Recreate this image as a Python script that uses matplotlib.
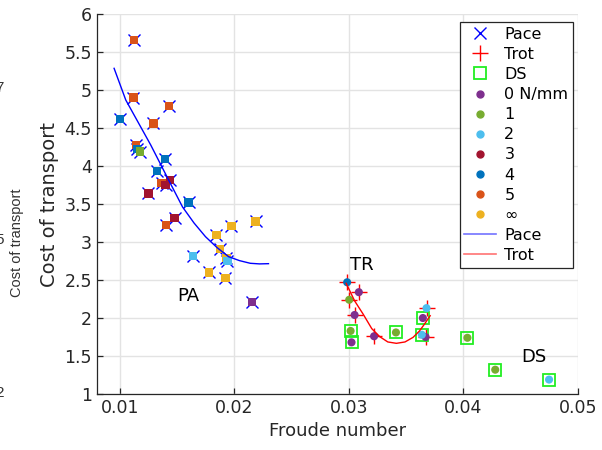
import matplotlib
matplotlib.use("Agg")
import matplotlib.pyplot as plt
from matplotlib.lines import Line2D
import numpy as np

# ---- data ----
stiff_labels = ["0 N/mm", "1", "2", "3", "4", "5", "\u221e"]
stiff_colors = ["#7E2F8E", "#77AC30", "#4DBEEE", "#A2142F", "#0072BD", "#D95319", "#EDB120"]

pace_x = [0.01124, 0.01119, 0.01429, 0.01000, 0.01293, 0.01139, 0.01150, 0.01177,
          0.01394, 0.01322, 0.01365, 0.01441, 0.01400, 0.01250, 0.01600, 0.01478,
          0.01406, 0.01843, 0.01974, 0.02185, 0.01637, 0.01872, 0.01930, 0.01939,
          0.01780, 0.01922, 0.02154]
pace_y = [5.66, 4.90, 4.79, 4.62, 4.56, 4.28, 4.22, 4.19,
          4.09, 3.93, 3.78, 3.82, 3.75, 3.64, 3.52, 3.32,
          3.22, 3.09, 3.21, 3.27, 2.82, 2.91, 2.79, 2.75,
          2.60, 2.53, 2.21]
pace_k = [5, 5, 5, 4, 5, 5, 4, 1,
          4, 4, 5, 3, 3, 3, 4, 3,
          5, 6, 6, 6, 2, 6, 6, 2,
          6, 6, 0]

trot_x = [0.02985, 0.03087, 0.03003, 0.03050, 0.03220, 0.03678, 0.03670]
trot_y = [2.47, 2.34, 2.24, 2.04, 1.76, 2.13, 1.75]
trot_k = [4, 0, 1, 0, 0, 2, 0]

ds_x = [0.03015, 0.03023, 0.03411, 0.03646, 0.03637, 0.04035, 0.04278, 0.04748]
ds_y = [1.83, 1.68, 1.81, 2.00, 1.78, 1.74, 1.32, 1.19]
ds_k = [1, 0, 1, 0, 2, 1, 1, 2]

pace_fit_x = [0.0095, 0.01052, 0.0127, 0.01426, 0.01548, 0.01648, 0.01748, 0.0185,
              0.0195, 0.02045, 0.02139, 0.0222, 0.02298]
pace_fit_y = [5.285, 4.868, 4.276, 3.816, 3.46, 3.25, 3.07, 2.925,
              2.807, 2.755, 2.72, 2.712, 2.715]
trot_fit_x = [0.02976, 0.0305, 0.03125, 0.0320, 0.0327, 0.0334, 0.03415, 0.0349,
              0.0356, 0.03617, 0.0366, 0.0371]
trot_fit_y = [2.457, 2.226, 2.05, 1.86, 1.754, 1.685, 1.667, 1.685,
              1.745, 1.83, 1.92, 2.03]

labels_txt = ["PA", "TR", "DS"]
labels_pos = [(0.01602, 2.29), (0.0311, 2.70), (0.04617, 1.49)]

# ---- figure ----
plt.rcParams['font.family'] = ['DejaVu Sans']
fig = plt.figure(figsize=(6.02, 4.5), dpi=100)
ax = fig.add_axes([0.161, 0.1244, 0.799, 0.8445])

fg = "#262626"
ax.set_xlim(0.008, 0.05)
ax.set_ylim(1, 6)
ax.set_xticks([0.01, 0.02, 0.03, 0.04, 0.05])
ax.set_xticklabels(["0.01", "0.02", "0.03", "0.04", "0.05"])
ax.set_yticks([1, 1.5, 2, 2.5, 3, 3.5, 4, 4.5, 5, 5.5, 6])
ax.set_yticklabels(["1", "1.5", "2", "2.5", "3", "3.5", "4", "4.5", "5", "5.5", "6"])
ax.grid(True, color="#e3e3e3", linewidth=1.0)
ax.set_axisbelow(True)
for s in ["top", "right"]:
    ax.spines[s].set_visible(False)
for s in ["left", "bottom"]:
    ax.spines[s].set_color(fg)
    ax.spines[s].set_linewidth(0.9)
ax.tick_params(direction="in", length=4, colors=fg, labelsize=12.5, width=0.9)
ax.set_xlabel("Froude number", fontsize=13, color=fg, labelpad=4)
ax.set_ylabel("Cost of transport", fontsize=14, color=fg, labelpad=4)

# marker overlays
ax.plot(pace_x, pace_y, ls="none", marker="x", color="blue", ms=9, mew=1.0, zorder=3)
ax.plot(trot_x, trot_y, ls="none", marker="+", color="red", ms=12, mew=1.0, zorder=3)
ax.plot(ds_x, ds_y, ls="none", marker="s", mfc="none", mec="#22ee22", ms=8.5, mew=1.3, zorder=3)

# colored fills
pc = [stiff_colors[k] for k in pace_k]
ax.scatter(pace_x, pace_y, marker="s", s=36, c=pc, edgecolors="none", zorder=4)
tc = [stiff_colors[k] for k in trot_k]
ax.scatter(trot_x, trot_y, marker="o", s=34, c=tc, edgecolors="none", zorder=4)
dc = [stiff_colors[k] for k in ds_k]
ax.scatter(ds_x, ds_y, marker="o", s=34, c=dc, edgecolors="none", zorder=4)

# fit lines
ax.plot(pace_fit_x, pace_fit_y, color="blue", lw=1.0, zorder=5)
ax.plot(trot_fit_x, trot_fit_y, color="red", lw=1.0, zorder=5)

for t, (x, y) in zip(labels_txt, labels_pos):
    ax.text(x, y, t, fontsize=13, ha="center", va="center", color="black")

# legend
handles = [
    Line2D([], [], ls="none", marker="x", color="blue", ms=9, mew=1.0),
    Line2D([], [], ls="none", marker="+", color="red", ms=12, mew=1.0),
    Line2D([], [], ls="none", marker="s", mfc="none", mec="#22ee22", ms=8.5, mew=1.3),
]
for c in stiff_colors:
    handles.append(Line2D([], [], ls="none", marker="o", color=c, ms=5))
handles.append(Line2D([], [], color="blue", lw=1.2, alpha=0.55))
handles.append(Line2D([], [], color="red", lw=1.2, alpha=0.55))
leg_labels = ["Pace", "Trot", "DS"] + stiff_labels + ["Pace", "Trot"]
leg = ax.legend(handles, leg_labels, loc="upper right", bbox_to_anchor=(0.99, 0.979),
                fontsize=11.5, frameon=True, fancybox=False, labelspacing=0.32,
                handlelength=2.0, handletextpad=0.5, borderpad=0.3, borderaxespad=0)
leg.get_frame().set_edgecolor(fg)
leg.get_frame().set_linewidth(0.9)
leg.get_frame().set_alpha(1)

# clipped remnants at left edge (as in the reference image)
rem_color = "#333333"
fig.text(4 / 602, 1 - 88 / 450, "7", fontsize=11, ha="right", va="center",
         color=rem_color, family="Liberation Sans")
fig.text(4 / 602, 1 - 240 / 450, "5", fontsize=11, ha="right", va="center",
         color=rem_color, family="Liberation Sans")
fig.text(4 / 602, 1 - 393 / 450, "2", fontsize=11, ha="right", va="center",
         color=rem_color, family="Liberation Sans")
fig.text(17 / 602, 1 - 243 / 450, "Cost of transport", fontsize=10.5, rotation=90,
         ha="center", va="center", color=rem_color, family="Liberation Sans")

fig.savefig("out.png", dpi=100)
